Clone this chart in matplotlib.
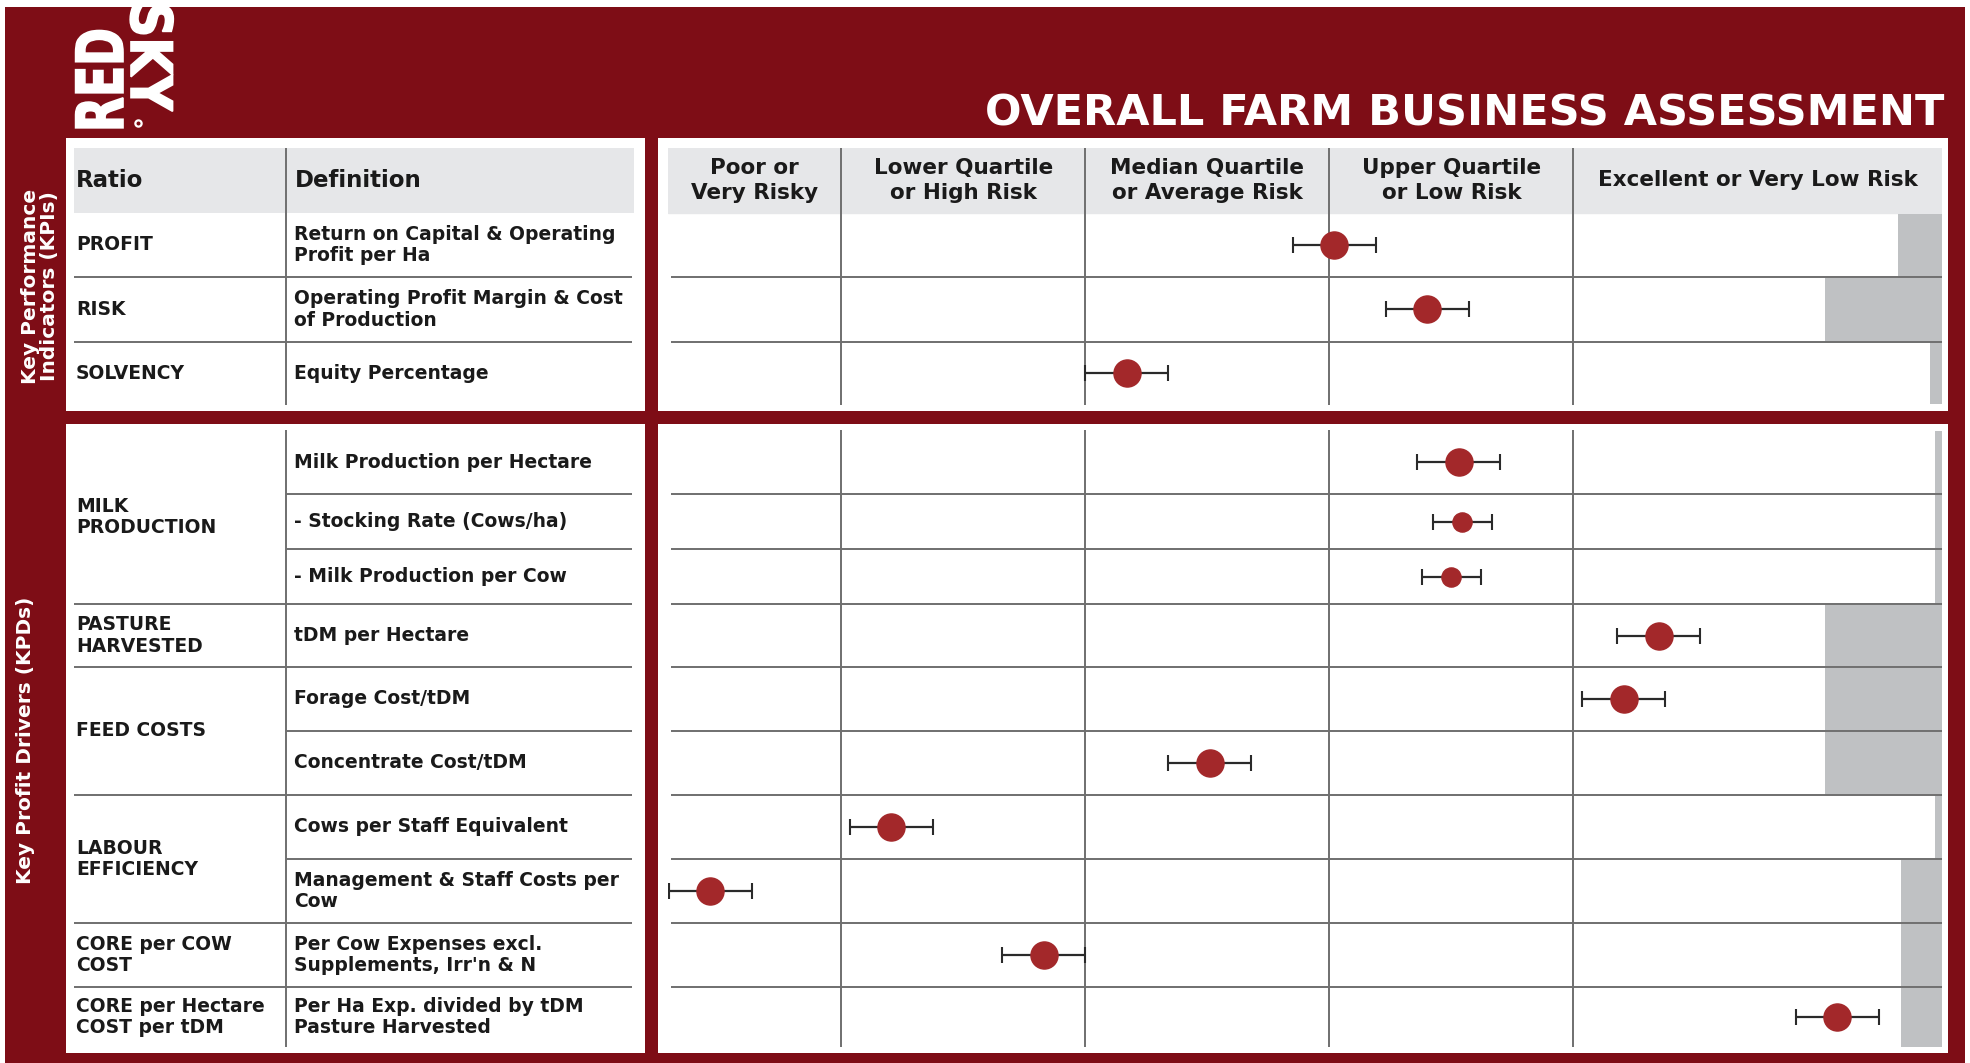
#!/usr/bin/env python

# Overall farm business assessment: benchmark bands with KPI / KPD scores

import numpy as np
import matplotlib

matplotlib.use("Agg")
import matplotlib.pyplot as plt
from matplotlib.patches import Rectangle, PathPatch
from matplotlib.textpath import TextPath
from matplotlib.font_manager import FontProperties
from matplotlib.transforms import Affine2D

# ---------------------------------------------------------------- data
bands = [
    "Poor or\nVery Risky",
    "Lower Quartile\nor High Risk",
    "Median Quartile\nor Average Risk",
    "Upper Quartile\nor Low Risk",
    "Excellent or Very Low Risk",
]
band_edges = [0.29, 1, 2, 3, 4, 5.51]

kpi_ratios = ["PROFIT", "RISK", "SOLVENCY"]
kpi_defs = [
    "Return on Capital & Operating\nProfit per Ha",
    "Operating Profit Margin & Cost\nof Production",
    "Equity Percentage",
]
kpi_score = [3.02, 3.40, 2.17]
kpi_err = [0.17, 0.17, 0.17]
kpi_bench = [5.33, 5.03, 5.46]

kpd_groups = [
    "MILK\nPRODUCTION",
    "PASTURE\nHARVESTED",
    "FEED COSTS",
    "LABOUR\nEFFICIENCY",
    "CORE per COW\nCOST",
    "CORE per Hectare\nCOST per tDM",
]
kpd_group_rows = [3, 1, 2, 2, 1, 1]
kpd_defs = [
    "Milk Production per Hectare",
    "- Stocking Rate (Cows/ha)",
    "- Milk Production per Cow",
    "tDM per Hectare",
    "Forage Cost/tDM",
    "Concentrate Cost/tDM",
    "Cows per Staff Equivalent",
    "Management & Staff Costs per\nCow",
    "Per Cow Expenses excl.\nSupplements, Irr'n & N",
    "Per Ha Exp. divided by tDM\nPasture Harvested",
]
kpd_score = [3.53, 3.545, 3.50, 4.35, 4.205, 2.51, 1.205, 0.463, 1.83, 5.08]
kpd_err = [0.17, 0.12, 0.12, 0.17, 0.17, 0.17, 0.17, 0.17, 0.17, 0.17]
kpd_bench = [5.48, 5.48, 5.48, 5.03, 5.03, 5.03, 5.48, 5.34, 5.34, 5.34]

# ---------------------------------------------------------------- style / layout
RED = "#7e0d16"
HEAD_GREY = "#e6e7e9"
LINE = "#6f6f6f"
BENCH = "#bfc1c3"
DOT = "#a3282a"
INK = "#1a1a1a"

W, H = 1970, 1063
header_h = 65
kpi_row_h = [64, 65, 63]
kpd_row_h = [64, 55, 55, 63, 64, 64, 64, 64, 64, 60]
small_rows = [1, 2]  # sub-indicators drawn with a smaller dot

fig = plt.figure(figsize=(W / 100, H / 100), dpi=100, facecolor="white")


def box(x0, y0, x1, y1):
    # pixel box (top-left origin) -> figure fraction rect
    return [x0 / W, 1 - y1 / H, (x1 - x0) / W, (y1 - y0) / H]


# Background axes in pixel units
bg = fig.add_axes([0, 0, 1, 1])
bg.set_xlim(0, W)
bg.set_ylim(H, 0)
bg.set_axis_off()
bg.add_patch(Rectangle((5, 7), 1960, H - 7, facecolor=RED, edgecolor="none"))
for x0, y0, x1, y1 in [
    (66, 138, 645, 411),
    (66, 424, 645, 1053),
    (658, 138, 1948, 411),
    (658, 424, 1948, 1053),
]:
    bg.add_patch(
        Rectangle((x0, y0), x1 - x0, y1 - y0, facecolor="white", edgecolor="none")
    )


# Logo: condensed heavy lettering, built from text paths in display pixels
def logo_word(word, size, sx, angle, x, y):
    path = TextPath((0, 0), word, size=size,
                    prop=FontProperties(family="DejaVu Sans", weight="bold"))
    tr = Affine2D().scale(sx, 1.0).rotate_deg(angle).translate(x, H - y)
    bg.add_patch(PathPatch(path, facecolor="white", edgecolor="white", lw=1.2,
                           transform=tr, zorder=5))


logo_word("RED", 65, 0.70, 90, 123, 132)
logo_word("SKY", 57, 0.86, -90, 131, 2)
bg.plot([138], [123], marker="o", ms=4.5, mfc="none", mec="white", mew=1.6)

# Title
bg.text(1944, 125, "OVERALL FARM BUSINESS ASSESSMENT", ha="right", va="baseline",
        fontsize=31, weight="bold", color="white")

# Side labels
bg.text(40, 286, "Key Performance\nIndicators (KPIs)", rotation=90, ha="center",
        va="center", multialignment="center", linespacing=0.95, fontsize=14.5,
        weight="bold", color="white")
bg.text(26, 740, "Key Profit Drivers (KPDs)", rotation=90, ha="center",
        va="center", fontsize=14.5, weight="bold", color="white")

# ---------------------------------------------------------------- left tables
LX0, LX1, LDIV = 74, 634, 286
txt = dict(fontsize=13.5, weight="bold", color=INK, va="center", linespacing=1.15)

bg.add_patch(Rectangle((LX0, 148), LX1 - LX0, header_h, facecolor=HEAD_GREY,
                       edgecolor="none"))
bg.text(76, 148 + header_h / 2, "Ratio", fontsize=16.5, weight="bold", color=INK,
        va="center")
bg.text(295, 148 + header_h / 2, "Definition", fontsize=16.5, weight="bold",
        color=INK, va="center")

kpi_edges = 148 + header_h + np.concatenate([[0], np.cumsum(kpi_row_h)])
bg.vlines(LDIV, 148, kpi_edges[-1], color=LINE, lw=1.4)
bg.hlines(kpi_edges[1:-1], LX0, LX1 - 2, color=LINE, lw=1.4)
for i, (r, d) in enumerate(zip(kpi_ratios, kpi_defs)):
    yc = (kpi_edges[i] + kpi_edges[i + 1]) / 2
    bg.text(76, yc, r, **txt)
    bg.text(294, yc, d, **txt)

kpd_top = 430
kpd_edges = kpd_top + np.concatenate([[0], np.cumsum(kpd_row_h)])
group_idx = np.concatenate([[0], np.cumsum(kpd_group_rows)])
bg.vlines(LDIV, kpd_top, kpd_edges[-1], color=LINE, lw=1.4)
for k in range(1, len(kpd_row_h)):
    x_start = LX0 if k in group_idx else LDIV
    bg.hlines(kpd_edges[k], x_start, LX1 - 2, color=LINE, lw=1.4)
for g, lab in enumerate(kpd_groups):
    yc = (kpd_edges[group_idx[g]] + kpd_edges[group_idx[g + 1]]) / 2
    bg.text(76, yc, lab, **txt)
for i, d in enumerate(kpd_defs):
    yc = (kpd_edges[i] + kpd_edges[i + 1]) / 2
    bg.text(294, yc, d, **txt)


# ---------------------------------------------------------------- right charts
def score_panel(ax, row_h, score, err, bench, header=False):
    top = header_h if header else 0
    edges = top + np.concatenate([[0], np.cumsum(row_h)])
    centers = (edges[:-1] + edges[1:]) / 2
    ax.set_xlim(band_edges[0], band_edges[-1])
    ax.set_ylim(edges[-1], 0)
    ax.set_axis_off()

    # benchmark shading at right-hand end of each row
    ax.barh(centers, [band_edges[-1] - b for b in bench], left=bench,
            height=np.array(row_h) - 1, color=BENCH, zorder=1)

    if header:
        ax.axhspan(0, header_h, color=HEAD_GREY, zorder=0)
        for j, lab in enumerate(bands):
            ax.text((band_edges[j] + band_edges[j + 1]) / 2, header_h / 2, lab,
                    ha="center", va="center", multialignment="center",
                    fontsize=15.5, weight="bold", color=INK, linespacing=1.3)

    ax.vlines(band_edges[1:-1], 0, edges[-1], color=LINE, lw=1.4, zorder=2)
    ax.hlines(edges[1:-1], band_edges[0] + 0.012, band_edges[-1], color=LINE,
              lw=1.4, zorder=2)

    for i, (s, e) in enumerate(zip(score, err)):
        ms = 13.8 if (not header and i in small_rows) else 19.5
        ax.errorbar(s, centers[i], xerr=e, fmt="o", ms=ms, color=DOT,
                    mec=DOT, ecolor="#2a2a2a", elinewidth=1.6, capsize=5.5,
                    capthick=1.5, zorder=3)


ax_kpi = fig.add_axes(box(668, 148, 1942, 148 + header_h + sum(kpi_row_h)))
score_panel(ax_kpi, kpi_row_h, kpi_score, kpi_err, kpi_bench, header=True)

ax_kpd = fig.add_axes(box(668, kpd_top, 1942, kpd_top + sum(kpd_row_h)))
score_panel(ax_kpd, kpd_row_h, kpd_score, kpd_err, kpd_bench)

fig.savefig("out.png", dpi=100, facecolor="white")
